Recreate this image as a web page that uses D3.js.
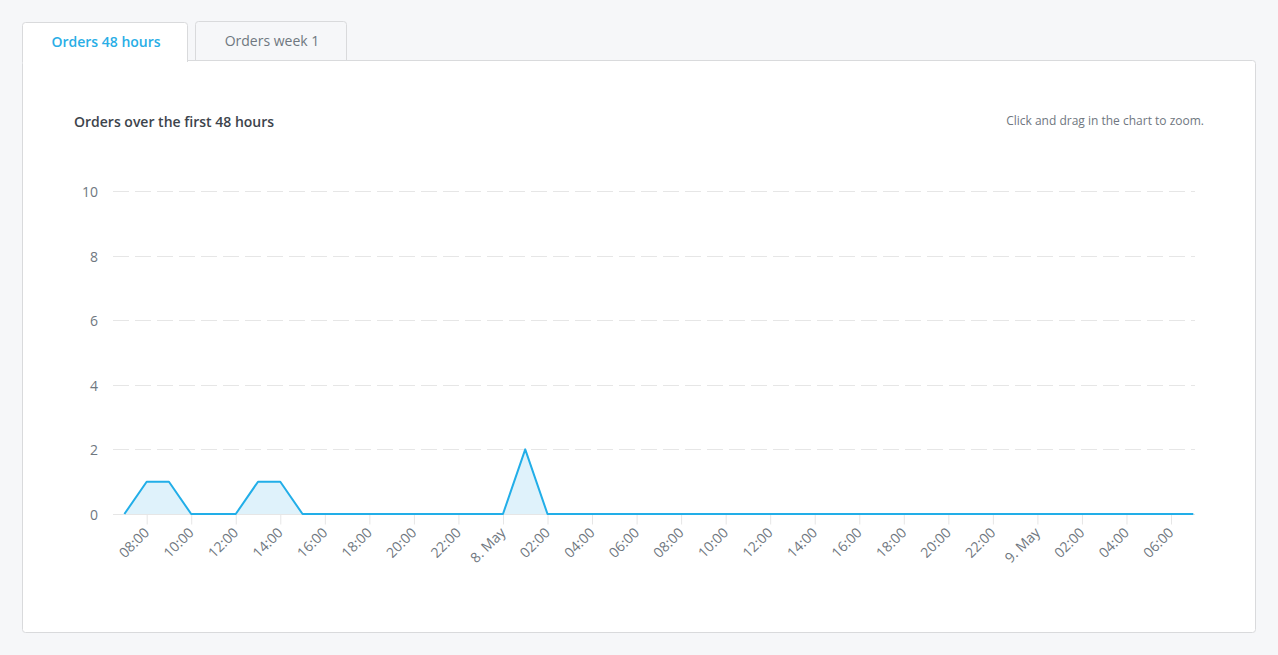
<!DOCTYPE html>
<html>
<head>
<meta charset="utf-8">
<script src="https://cdn.jsdelivr.net/npm/d3@7"></script>
<style>
  html, body { margin: 0; padding: 0; background: #f6f7f9; }
  svg { display: block; font-family: "Open Sans", sans-serif; }
</style>
</head>
<body>
<svg id="chart" width="1278" height="655"></svg>
<script>
// ---- data ----
const tabs = ["Orders 48 hours", "Orders week 1"];
const chartTitle = "Orders over the first 48 hours";
const zoomNote = "Click and drag in the chart to zoom.";
const seriesStart = "2024-05-07T07:00:00";
// hourly orders, 7 May 07:00 .. 9 May 07:00
const orders = [
  0, 1, 1, 0, 0, 0, 1, 1, 0, 0, 0, 0, 0, 0, 0, 0, 0, 0,
  2, 0, 0, 0, 0, 0, 0, 0, 0, 0, 0, 0, 0, 0, 0, 0, 0, 0,
  0, 0, 0, 0, 0, 0, 0, 0, 0, 0, 0, 0, 0
];
const yTicks = [0, 2, 4, 6, 8, 10];

// ---- drawing ----
const svg = d3.select("#chart");
const parse = d3.timeParse("%Y-%m-%dT%H:%M:%S");
const t0 = parse(seriesStart);
const data = orders.map((v, i) => ({ t: d3.timeHour.offset(t0, i), v }));

// Tabs
const tabGeo = [
  { x: 22, y: 22, w: 166, h: 40, active: true },
  { x: 195, y: 21, w: 152, h: 39, active: false }
];
// panel
svg.append("rect").attr("x", 22.5).attr("y", 60.5).attr("width", 1233).attr("height", 572)
  .attr("rx", 3).attr("fill", "#fff").attr("stroke", "#d9dadc");

tabGeo.forEach((g, i) => {
  svg.append("path")
    .attr("d", `M${g.x + 0.5},${g.y + g.h} V${g.y + 3.5} Q${g.x + 0.5},${g.y + 0.5} ${g.x + 3.5},${g.y + 0.5} H${g.x + g.w - 3.5} Q${g.x + g.w - 0.5},${g.y + 0.5} ${g.x + g.w - 0.5},${g.y + 3.5} V${g.y + g.h}`)
    .attr("fill", g.active ? "#fff" : "#f6f7f9")
    .attr("stroke", "#d9dadc");
  if (g.active) {
    svg.append("rect").attr("x", g.x + 1).attr("y", 59).attr("width", g.w - 2).attr("height", 4).attr("fill", "#fff");
  }
  svg.append("text")
    .attr("x", g.x + g.w / 2 + 1).attr("y", g.y + 25)
    .attr("text-anchor", "middle")
    .attr("font-size", 14)
    .attr("font-weight", g.active ? 600 : 400)
    .attr("fill", g.active ? "#29aee6" : "#6f7780")
    .text(tabs[i]);
});

svg.append("text").attr("x", 74).attr("y", 127)
  .attr("font-size", 14).attr("font-weight", 600).attr("fill", "#3d444c")
  .text(chartTitle);
svg.append("text").attr("x", 1204).attr("y", 125)
  .attr("text-anchor", "end")
  .attr("font-size", 12).attr("fill", "#6f7780")
  .text(zoomNote);

const plotLeft = 113, plotRight = 1195;
const x = d3.scaleTime()
  .domain([data[0].t, data[data.length - 1].t])
  .range([124.4, 1193.3]);
const y = d3.scaleLinear().domain([0, 10]).range([514, 191]);

// grid lines
const grid = svg.append("g");
yTicks.forEach(v => {
  grid.append("line")
    .attr("x1", plotLeft).attr("x2", plotRight)
    .attr("y1", Math.round(y(v)) + 0.5).attr("y2", Math.round(y(v)) + 0.5)
    .attr("stroke", "#e6e6e6")
    .attr("stroke-dasharray", v === 0 ? null : "16,6");
});

// y axis labels
const yAxis = d3.axisLeft(y).tickValues(yTicks).tickSize(0).tickPadding(0);
const gy = svg.append("g").attr("transform", "translate(98,1)").call(yAxis);
gy.select(".domain").remove();
gy.selectAll("text").attr("font-family", "Open Sans, sans-serif")
  .attr("font-size", 14).attr("fill", "#6f7780");

// x axis
const fmt = d => (d.getHours() === 0 ? d3.timeFormat("%-d. %b")(d) : d3.timeFormat("%H:%M")(d));
const xAxis = d3.axisBottom(x).ticks(d3.timeHour.every(2)).tickFormat(fmt).tickSize(10).tickSizeOuter(0);
const gx = svg.append("g").attr("transform", "translate(0,514.5)").call(xAxis);
gx.select(".domain").remove();
gx.selectAll(".tick line").attr("stroke", "#e6e6e6");
gx.selectAll("text")
  .attr("font-family", "Open Sans, sans-serif")
  .attr("font-size", 14).attr("fill", "#6f7780")
  .attr("text-anchor", "end")
  .attr("dy", null)
  .attr("y", 0)
  .attr("transform", "translate(3,19) rotate(-45)");

// area + line
const area = d3.area().x(d => x(d.t)).y0(y(0)).y1(d => y(d.v));
const line = d3.line().x(d => x(d.t)).y(d => y(d.v));
svg.append("path").datum(data).attr("d", area).attr("fill", "#dff2fb");
svg.append("path").datum(data).attr("d", line)
  .attr("fill", "none").attr("stroke", "#22aee8").attr("stroke-width", 2)
  .attr("stroke-linejoin", "round");
</script>
</body>
</html>
